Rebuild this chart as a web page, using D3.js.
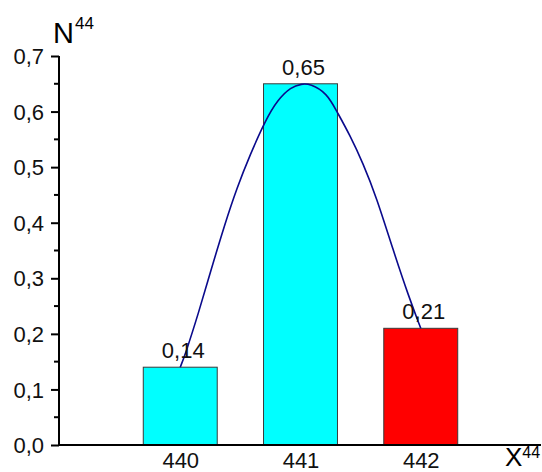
<!DOCTYPE html>
<html>
<head>
<meta charset="utf-8">
<script src="https://cdn.jsdelivr.net/npm/d3@7"></script>
<style>
  html, body { margin: 0; padding: 0; background: #fff; }
  svg { display: block; font-family: Arial, "Liberation Sans", sans-serif; }
</style>
</head>
<body>
<svg id="chart" width="542" height="472"></svg>
<script>
// bar data
const categories = [440, 441, 442];
const values = [0.14, 0.65, 0.21];
const highlighted = 442;

// fitted curve, points
const fitX = [440.0, 440.04, 440.15, 440.26, 440.37, 440.47, 440.58, 440.71, 440.81, 440.92, 441.01,
    441.08, 441.22, 441.3, 441.41, 441.52, 441.63, 441.77, 441.9, 442.0];
const fitY = [0.14, 0.162, 0.236, 0.318, 0.397, 0.462, 0.522, 0.585, 0.621, 0.644, 0.65,
    0.65, 0.633, 0.601, 0.558, 0.507, 0.447, 0.351, 0.267, 0.21];

const yTicks = [0, 0.1, 0.2, 0.3, 0.4, 0.5, 0.6, 0.7];
const yMinorTicks = [0.05, 0.15, 0.25, 0.35, 0.45, 0.55, 0.65];

const svg = d3.select('#chart');
const locale = d3.formatLocale({ decimal: ',', thousands: ' ', grouping: [3], currency: ['', ''] });
const fmt1 = locale.format('.1f');
const fmt2 = locale.format('.2f');

const x = d3.scaleLinear().domain([439, 443]).range([60, 541]);
const y = d3.scaleLinear().domain([0, 0.7]).range([445, 56]);
const barW = (x(441) - x(440)) * 0.615;

// bars
svg.append('g')
    .selectAll('rect')
    .data(categories)
    .join('rect')
    .attr('x', (d) => x(d) - barW / 2)
    .attr('y', (d, i) => y(values[i]))
    .attr('width', barW)
    .attr('height', (d, i) => y(0) - y(values[i]))
    .attr('fill', (d) => (d === highlighted ? '#ff0000' : '#00ffff'))
    .attr('stroke', '#3a3a3a')
    .attr('stroke-width', 1);

// fit curve
const line = d3.line()
    .x((d) => x(d[0]))
    .y((d) => y(d[1]))
    .curve(d3.curveBasis);
svg.append('path')
    .datum(fitX.map((d, i) => [d, fitY[i]]))
    .attr('d', line)
    .attr('fill', 'none')
    .attr('stroke', '#0a0a8c')
    .attr('stroke-width', 1.6);

// value labels
svg.append('g')
    .selectAll('text')
    .data(categories)
    .join('text')
    .attr('x', (d) => x(d) + 3)
    .attr('y', (d, i) => y(values[i]) - 9)
    .attr('text-anchor', 'middle')
    .attr('font-size', 22)
    .attr('fill', '#111')
    .text((d, i) => fmt2(values[i]));

// y axis
const yAxis = svg.append('g').attr('transform', `translate(${x(439) - 1},0)`);
yAxis.call(d3.axisLeft(y).tickValues(yTicks).tickSize(8).tickPadding(7).tickFormat(fmt1));
yAxis.select('.domain').attr('stroke', '#000').attr('stroke-width', 2).attr('d', `M0,${y(0.7)}V${y(0) + 1}`);
yAxis.selectAll('.tick line').attr('stroke', '#000').attr('stroke-width', 2);
yAxis.selectAll('.tick text')
    .attr('font-size', 22)
    .attr('font-family', 'Arial, "Liberation Sans", sans-serif')
    .attr('fill', '#111')
    .attr('dy', '0.35em');
yAxis.selectAll('.minor')
    .data(yMinorTicks)
    .join('line')
    .attr('class', 'minor')
    .attr('x1', -5)
    .attr('x2', 0)
    .attr('y1', (d) => y(d))
    .attr('y2', (d) => y(d))
    .attr('stroke', '#000')
    .attr('stroke-width', 2);

// x axis
const xAxis = svg.append('g').attr('transform', `translate(0,${y(0)})`);
xAxis.call(d3.axisBottom(x).tickValues(categories).tickSize(0).tickPadding(7).tickFormat(d3.format('d')));
xAxis.select('.domain').attr('stroke', '#000').attr('stroke-width', 2).attr('d', `M${x(439) - 2},0H541`);
xAxis.selectAll('.tick text')
    .attr('font-size', 22)
    .attr('font-family', 'Arial, "Liberation Sans", sans-serif')
    .attr('fill', '#111')
    .attr('dy', '0.71em');

// axis titles
const yTitle = svg.append('text')
    .attr('x', 53)
    .attr('y', 43)
    .attr('font-size', 29)
    .attr('fill', '#000');
yTitle.append('tspan').text('N');
yTitle.append('tspan').attr('font-size', 17).attr('dy', -14).attr('dx', 1).text('44');

const xTitle = svg.append('text')
    .attr('x', 505)
    .attr('y', 466)
    .attr('font-size', 26)
    .attr('fill', '#000');
xTitle.append('tspan').text('X');
xTitle.append('tspan').attr('font-size', 16).attr('dy', -8).text('44');
</script>
</body>
</html>
